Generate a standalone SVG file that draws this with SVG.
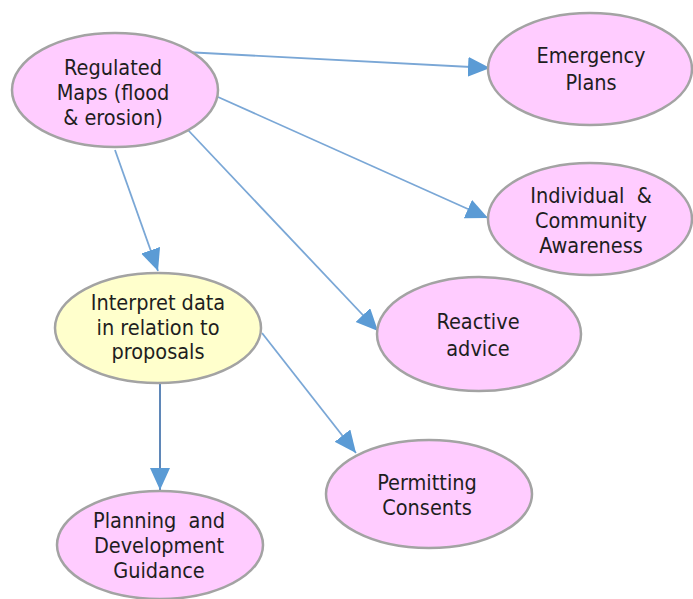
<svg xmlns="http://www.w3.org/2000/svg" width="693" height="599" viewBox="0 0 693 599">
  <defs>
    <marker id="arrow" markerUnits="userSpaceOnUse" markerWidth="24" markerHeight="22" refX="22" refY="10" orient="auto">
      <path d="M0,0 L22,10 L0,20 Z" fill="#5b9bd5"/>
    </marker>
    <style>
      .node ellipse { stroke: #a3a3a3; stroke-width: 2.5; }
      .pink { fill: #ffccff; }
      .yellow { fill: #ffffcc; }
      text { font-family: "DejaVu Sans Condensed", "DejaVu Sans", Verdana, sans-serif; font-size: 21.5px; fill: #1e1e1e; text-anchor: middle; }
      .edge { stroke: #7aa7d6; stroke-width: 1.8; fill: none; marker-end: url(#arrow); }
      .edge.dark { stroke: #5f87b8; stroke-width: 2; }
    </style>
  </defs>
  <rect width="693" height="599" fill="#ffffff"/>

  <g id="connectors">
    <line class="edge" x1="185" y1="52" x2="490" y2="68"/>
    <line class="edge" x1="218" y1="97" x2="488" y2="218"/>
    <line class="edge" x1="188" y1="130" x2="378" y2="331"/>
    <line class="edge" x1="115" y1="150" x2="158" y2="271"/>
    <line class="edge" x1="262" y1="333" x2="356" y2="453"/>
    <line class="edge dark" x1="160" y1="384" x2="160" y2="490"/>
  </g>

  <g id="regulated-maps" class="node">
    <ellipse class="pink" cx="115" cy="90" rx="103" ry="57"/>
    <text x="113" y="75">Regulated</text>
    <text x="113" y="100">Maps (flood</text>
    <text x="113" y="125">&amp; erosion)</text>
  </g>

  <g id="emergency-plans" class="node">
    <ellipse class="pink" cx="590" cy="69" rx="102" ry="56"/>
    <text x="591" y="63">Emergency</text>
    <text x="591" y="90">Plans</text>
  </g>

  <g id="community-awareness" class="node">
    <ellipse class="pink" cx="590" cy="219" rx="102" ry="56"/>
    <text x="591" y="203" xml:space="preserve">Individual  &amp;</text>
    <text x="591" y="228">Community</text>
    <text x="591" y="253">Awareness</text>
  </g>

  <g id="reactive-advice" class="node">
    <ellipse class="pink" cx="479" cy="334" rx="102" ry="57"/>
    <text x="478" y="329">Reactive</text>
    <text x="478" y="356">advice</text>
  </g>

  <g id="interpret-data" class="node">
    <ellipse class="yellow" cx="158" cy="328" rx="103" ry="55"/>
    <text x="158" y="310">Interpret data</text>
    <text x="158" y="335">in relation to</text>
    <text x="158" y="359">proposals</text>
  </g>

  <g id="permitting-consents" class="node">
    <ellipse class="pink" cx="429" cy="494" rx="103" ry="54"/>
    <text x="427" y="490">Permitting</text>
    <text x="427" y="515">Consents</text>
  </g>

  <g id="planning-guidance" class="node">
    <ellipse class="pink" cx="160" cy="545" rx="103" ry="54"/>
    <text x="159" y="528" xml:space="preserve">Planning  and</text>
    <text x="159" y="553">Development</text>
    <text x="159" y="578">Guidance</text>
  </g>
</svg>
